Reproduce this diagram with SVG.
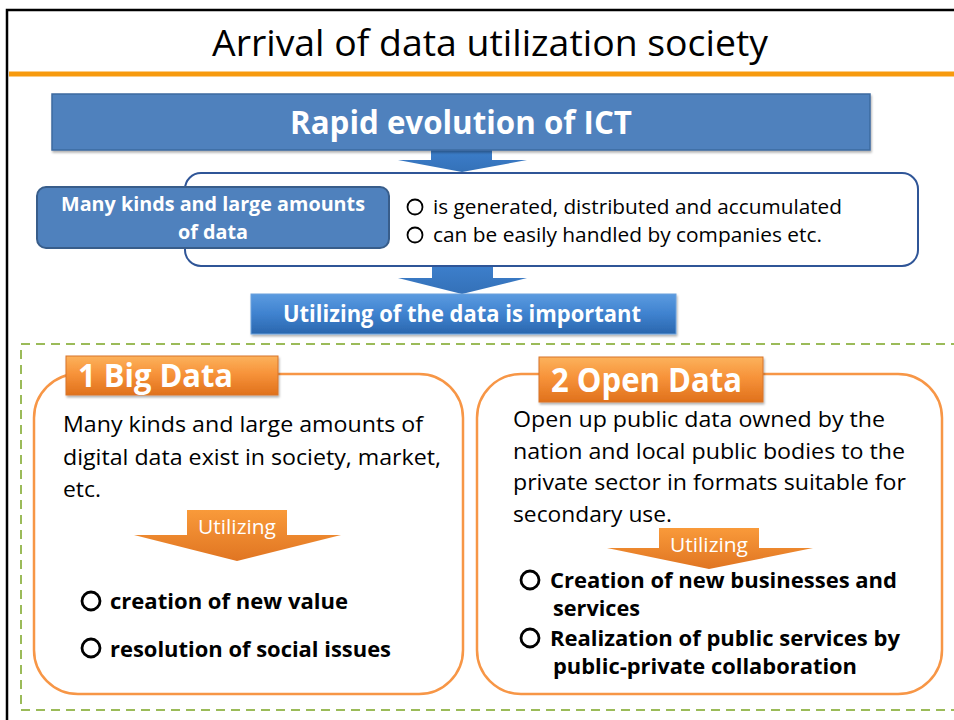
<svg xmlns="http://www.w3.org/2000/svg" width="954" height="720" viewBox="0 0 954 720">
<defs>
<linearGradient id="blueG" x1="0" y1="0" x2="0" y2="1">
<stop offset="0" stop-color="#5b9be0"/>
<stop offset="0.5" stop-color="#3f82cf"/>
<stop offset="1" stop-color="#2a66ad"/>
</linearGradient>
<linearGradient id="arrowB" x1="0" y1="0" x2="0" y2="1">
<stop offset="0" stop-color="#3d7fcc"/>
<stop offset="1" stop-color="#3471b8"/>
</linearGradient>
<linearGradient id="orangeG" x1="0" y1="0" x2="0" y2="1">
<stop offset="0" stop-color="#fcb25c"/>
<stop offset="0.45" stop-color="#f7933a"/>
<stop offset="1" stop-color="#e0711c"/>
</linearGradient>
<linearGradient id="arrowO" x1="0" y1="0" x2="0" y2="1">
<stop offset="0" stop-color="#f99a3a"/>
<stop offset="1" stop-color="#e07522"/>
</linearGradient>
<filter id="sh" x="-5%" y="-10%" width="110%" height="130%">
<feDropShadow dx="1" dy="2" stdDeviation="1.2" flood-color="#000" flood-opacity="0.3"/>
</filter>
</defs>
<style>
text{font-family:"Open Sans","Liberation Sans",sans-serif;}
.w{fill:#ffffff;}
.b{font-weight:bold;}
.body{font-size:21.5px;fill:#000;}
.bul{font-size:22px;font-weight:bold;fill:#000;}
.bul2{font-size:20.5px;font-weight:bold;fill:#000;}
.circ{fill:none;stroke:#000;}
.obox{fill:#fff;stroke:#f79646;stroke-width:2.5;}
</style>
<rect x="0" y="0" width="954" height="720" fill="#ffffff"/>
<g id="frame">
<path d="M7,720 V10 H954" fill="none" stroke="#000" stroke-width="2.5"/>
<line x1="9" y1="74" x2="954" y2="74" stroke="#f79a0e" stroke-width="5"/>
<text x="490" y="56" font-size="37" text-anchor="middle" textLength="556" lengthAdjust="spacingAndGlyphs" fill="#000">Arrival of data utilization society</text>
</g>
<g id="connectors">
<path d="M431,148 H492 V160 H527 L462,172 L398,160 H431 Z" fill="url(#arrowB)"/>
<path d="M432,265 H493 V278 H527 L462,294 L398,278 H432 Z" fill="url(#arrowB)"/>
</g>
<g id="ict">
<rect x="52" y="94" width="818" height="56" fill="#4f81bd" stroke="#3d6aa0" stroke-width="1.5" filter="url(#sh)"/>
<text x="461" y="134" font-size="33" class="w b" text-anchor="middle" textLength="342" lengthAdjust="spacingAndGlyphs">Rapid evolution of ICT</text>
</g>
<g id="dataInfo">
<rect x="185" y="173" width="733" height="93" rx="16" fill="#fff" stroke="#2f5597" stroke-width="2"/>
<circle cx="415" cy="207" r="7.5" class="circ" stroke-width="1.8"/>
<text x="433" y="214" font-size="20.5" fill="#000" textLength="409" lengthAdjust="spacingAndGlyphs">is generated, distributed and accumulated</text>
<circle cx="415" cy="235" r="7.5" class="circ" stroke-width="1.8"/>
<text x="433" y="242" font-size="20.5" fill="#000" textLength="389" lengthAdjust="spacingAndGlyphs">can be easily handled by companies etc.</text>
</g>
<g id="manyKinds">
<rect x="37" y="187" width="352" height="61" rx="9" fill="#4f81bd" stroke="#385d8a" stroke-width="2"/>
<text x="213" y="211" font-size="20" class="w b" text-anchor="middle" textLength="304" lengthAdjust="spacingAndGlyphs">Many kinds and large amounts</text>
<text x="213" y="239" font-size="20" class="w b" text-anchor="middle" textLength="70" lengthAdjust="spacingAndGlyphs">of data</text>
</g>
<g id="important">
<rect x="251" y="294" width="425" height="40" fill="url(#blueG)" stroke="#6aa0dc" stroke-width="1" filter="url(#sh)"/>
<text x="462" y="322" font-size="23" class="w b" text-anchor="middle" textLength="358" lengthAdjust="spacingAndGlyphs">Utilizing of the data is important</text>
</g>
<g id="dashedArea">
<path d="M960,344 H21 V710 H960" fill="none" stroke="#9bbb59" stroke-width="2" stroke-dasharray="9,6"/>
</g>
<g id="bigData">
<rect x="34" y="374" width="429" height="320" rx="44" class="obox"/>
<rect x="66" y="356" width="212" height="39" fill="url(#orangeG)" stroke="#d8742a" stroke-width="1" filter="url(#sh)"/>
<text x="78" y="387" font-size="32" class="w b" textLength="155" lengthAdjust="spacingAndGlyphs">1 Big Data</text>
<text x="63" y="432" class="body" textLength="360" lengthAdjust="spacingAndGlyphs">Many kinds and large amounts of</text>
<text x="63" y="465" class="body" textLength="378" lengthAdjust="spacingAndGlyphs">digital data exist in society, market,</text>
<text x="63" y="497" class="body" textLength="38" lengthAdjust="spacingAndGlyphs">etc.</text>
<path d="M187,510 H287 V535 H341 L237,561 L134,535 H187 Z" fill="url(#arrowO)"/>
<text x="237" y="534" font-size="20.5" class="w" text-anchor="middle" textLength="78" lengthAdjust="spacingAndGlyphs">Utilizing</text>
<circle cx="91" cy="601" r="9" class="circ" stroke-width="2.8"/>
<text x="110" y="609" class="bul" textLength="238" lengthAdjust="spacingAndGlyphs">creation of new value</text>
<circle cx="91" cy="648" r="9" class="circ" stroke-width="2.8"/>
<text x="110" y="657" class="bul" textLength="281" lengthAdjust="spacingAndGlyphs">resolution of social issues</text>
</g>
<g id="openData">
<rect x="477" y="374" width="465" height="320" rx="44" class="obox"/>
<rect x="539" y="357" width="224" height="45" fill="url(#orangeG)" stroke="#d8742a" stroke-width="1" filter="url(#sh)"/>
<text x="551" y="392" font-size="34" class="w b" textLength="191" lengthAdjust="spacingAndGlyphs">2 Open Data</text>
<text x="513" y="427" class="body" textLength="372" lengthAdjust="spacingAndGlyphs">Open up public data owned by the</text>
<text x="513" y="459" class="body" textLength="392" lengthAdjust="spacingAndGlyphs">nation and local public bodies to the</text>
<text x="513" y="490" class="body" textLength="393" lengthAdjust="spacingAndGlyphs">private sector in formats suitable for</text>
<text x="513" y="522" class="body" textLength="159" lengthAdjust="spacingAndGlyphs">secondary use.</text>
<path d="M659,528 H759 V548 H813 L709,569 L607,548 H659 Z" fill="url(#arrowO)"/>
<text x="709" y="552" font-size="20.5" class="w" text-anchor="middle" textLength="78" lengthAdjust="spacingAndGlyphs">Utilizing</text>
<circle cx="530" cy="580" r="9" class="circ" stroke-width="2.8"/>
<text x="550" y="588" class="bul2" textLength="347" lengthAdjust="spacingAndGlyphs">Creation of new businesses and</text>
<text x="553" y="616" class="bul2" textLength="87" lengthAdjust="spacingAndGlyphs">services</text>
<circle cx="530" cy="638" r="9" class="circ" stroke-width="2.8"/>
<text x="550" y="646" class="bul2" textLength="350" lengthAdjust="spacingAndGlyphs">Realization of public services by</text>
<text x="553" y="674" class="bul2" textLength="304" lengthAdjust="spacingAndGlyphs">public-private collaboration</text>
</g>
</svg>
